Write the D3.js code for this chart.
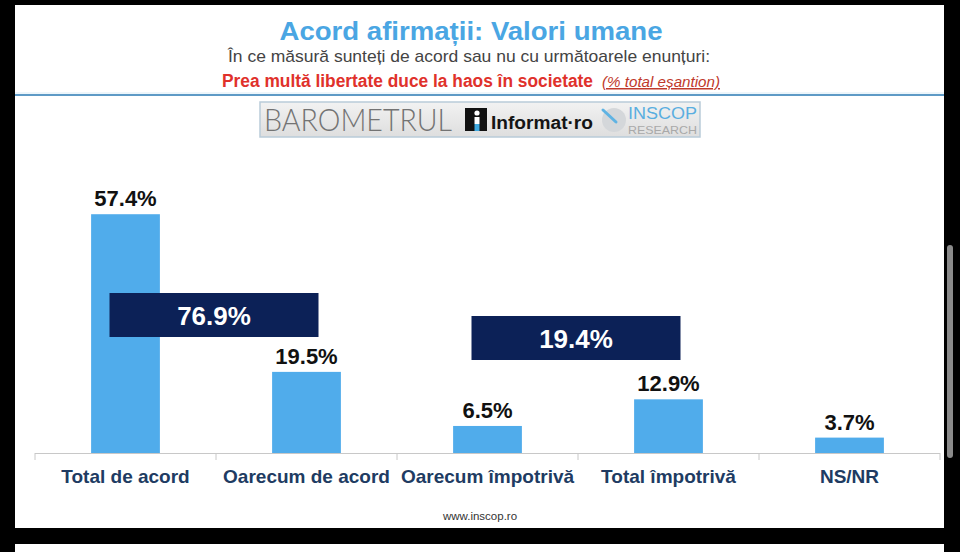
<!DOCTYPE html>
<html>
<head>
<meta charset="utf-8">
<script src="https://cdn.jsdelivr.net/npm/d3@7"></script>
<style>
  html, body { margin: 0; padding: 0; background: #000; }
  svg { display: block; }
  text { font-family: "Liberation Sans", Arial, sans-serif; }
</style>
</head>
<body>
<svg id="chart" width="960" height="552"></svg>
<script>
// Chart data
const categories = ['Total de acord', 'Oarecum de acord', 'Oarecum împotrivă', 'Total împotrivă', 'NS/NR'];
const values = [57.4, 19.5, 6.5, 12.9, 3.7];
const valueLabels = ['57.4%', '19.5%', '6.5%', '12.9%', '3.7%'];

// Summary boxes (sum of two neighbouring categories)
const summaryPairs = [['Total de acord', 'Oarecum de acord'], ['Oarecum împotrivă', 'Total împotrivă']];
const summaryLabels = ['76.9%', '19.4%'];

const titleText = 'Acord afirmații: Valori umane';
const subtitleText = 'În ce măsură sunteți de acord sau nu cu următoarele enunțuri:';
const questionText = 'Prea multă libertate duce la haos în societate';
const noteText = '(% total eșantion)';
const footerText = 'www.inscop.ro';

const svg = d3.select('#chart');

// Page panels (screenshot frame)
svg.append('rect').attr('x', 15).attr('y', 5).attr('width', 929).attr('height', 523).attr('fill', '#fff');
svg.append('rect').attr('x', 15).attr('y', 544).attr('width', 929).attr('height', 8).attr('fill', '#fff');
svg.append('rect').attr('x', 947).attr('y', 245).attr('width', 6).attr('height', 213).attr('rx', 3).attr('fill', '#8a8a8a');

// Header
svg.append('text').attr('x', 471).attr('y', 40).attr('text-anchor', 'middle')
    .attr('font-size', 26).attr('font-weight', 'bold').attr('fill', '#4aa6e3')
    .attr('textLength', 383).attr('lengthAdjust', 'spacingAndGlyphs')
    .text(titleText);
svg.append('text').attr('x', 469).attr('y', 62).attr('text-anchor', 'middle')
    .attr('font-size', 17).attr('fill', '#444')
    .attr('textLength', 482).attr('lengthAdjust', 'spacingAndGlyphs')
    .text(subtitleText);
svg.append('text').attr('x', 222).attr('y', 87)
    .attr('font-size', 18).attr('font-weight', 'bold').attr('fill', '#e0312b')
    .attr('textLength', 371).attr('lengthAdjust', 'spacingAndGlyphs')
    .text(questionText);
svg.append('text').attr('x', 602).attr('y', 87)
    .attr('font-size', 15).attr('font-style', 'italic').attr('fill', '#c0392b')
    .attr('text-decoration', 'underline')
    .attr('textLength', 118).attr('lengthAdjust', 'spacingAndGlyphs')
    .text(noteText);
svg.append('line').attr('x1', 15).attr('x2', 944).attr('y1', 95).attr('y2', 95)
    .attr('stroke', '#5e9ac6').attr('stroke-width', 2);
svg.append('line').attr('x1', 15).attr('x2', 944).attr('y1', 93).attr('y2', 93)
    .attr('stroke', '#dcedf7').attr('stroke-width', 1);

// Logo strip
const defs = svg.append('defs');
const grad = defs.append('linearGradient').attr('id', 'logoGrad').attr('x1', 0).attr('x2', 0).attr('y1', 0).attr('y2', 1);
grad.append('stop').attr('offset', '0%').attr('stop-color', '#f2f2f2');
grad.append('stop').attr('offset', '100%').attr('stop-color', '#dedede');

const logo = svg.append('g');
logo.append('rect').attr('x', 260).attr('y', 102).attr('width', 440).attr('height', 35)
    .attr('fill', 'url(#logoGrad)').attr('stroke', '#b9cbd9').attr('stroke-width', 1.5);
logo.append('text').attr('x', 264).attr('y', 131).attr('font-size', 31).attr('font-weight', 300)
    .style('font-family', 'Lato, "Open Sans", sans-serif')
    .attr('fill', '#737373').attr('textLength', 188).attr('lengthAdjust', 'spacingAndGlyphs')
    .text('BAROMETRUL');
logo.append('rect').attr('x', 465).attr('y', 108).attr('width', 22).attr('height', 23).attr('fill', '#111');
logo.append('circle').attr('cx', 477).attr('cy', 113).attr('r', 2.6).attr('fill', '#fff');
logo.append('rect').attr('x', 474.5).attr('y', 117).attr('width', 5).attr('height', 7).attr('fill', '#fff');
logo.append('rect').attr('x', 474.5).attr('y', 124).attr('width', 5).attr('height', 7).attr('fill', '#3fa9e0');
logo.append('text').attr('x', 491).attr('y', 129).attr('font-size', 18).attr('font-weight', 'bold')
    .attr('fill', '#141414').attr('textLength', 102).attr('lengthAdjust', 'spacingAndGlyphs')
    .text('Informat·ro');
logo.append('circle').attr('cx', 614).attr('cy', 120).attr('r', 12).attr('fill', '#d4d7da');
logo.append('line').attr('x1', 603).attr('y1', 110).attr('x2', 616).attr('y2', 122)
    .attr('stroke', '#5fb3e3').attr('stroke-width', 3).attr('stroke-linecap', 'round');
logo.append('text').attr('x', 628).attr('y', 119).attr('font-size', 16)
    .attr('fill', '#5aaee0').attr('textLength', 69).attr('lengthAdjust', 'spacingAndGlyphs')
    .text('INSCOP');
logo.append('text').attr('x', 628).attr('y', 134).attr('font-size', 11)
    .attr('fill', '#a9a9a9').attr('textLength', 69).attr('lengthAdjust', 'spacingAndGlyphs')
    .text('RESEARCH');

// Scales
const x = d3.scaleBand()
    .domain(categories)
    .range([35, 940])
    .paddingInner(0.62)
    .paddingOuter(0.31);

const y = d3.scaleLinear()
    .domain([0, 60])
    .range([453, 203.4]);

const step = x.step();
const bw = x.bandwidth();
const centre = d => x(d) + bw / 2;

// Axis line with ticks at band boundaries
const baseY = y(0);
svg.append('line').attr('x1', 35).attr('x2', 940).attr('y1', baseY + 0.5).attr('y2', baseY + 0.5)
    .attr('stroke', '#c8c8c8').attr('stroke-width', 1);
const boundaries = categories.map(d => centre(d) - step / 2).concat([centre(categories[categories.length - 1]) + step / 2]);
svg.append('g').selectAll('line')
    .data(boundaries)
    .join('line')
    .attr('x1', d => d).attr('x2', d => d)
    .attr('y1', baseY).attr('y2', baseY + 7)
    .attr('stroke', '#c8c8c8');

// Bars
svg.append('g').selectAll('rect')
    .data(categories)
    .join('rect')
    .attr('x', d => x(d))
    .attr('y', (d, i) => y(values[i]))
    .attr('width', bw)
    .attr('height', (d, i) => y(0) - y(values[i]))
    .attr('fill', '#50aceb');

// Value labels
svg.append('g').selectAll('text')
    .data(categories)
    .join('text')
    .attr('x', d => centre(d))
    .attr('y', (d, i) => y(values[i]) - 8)
    .attr('text-anchor', 'middle')
    .attr('font-size', 22)
    .attr('font-weight', 'bold')
    .attr('fill', '#111')
    .text((d, i) => valueLabels[i]);

// Category labels
svg.append('g').selectAll('text')
    .data(categories)
    .join('text')
    .attr('x', d => centre(d))
    .attr('y', 483)
    .attr('text-anchor', 'middle')
    .attr('font-size', 19)
    .attr('font-weight', 'bold')
    .attr('fill', '#203b62')
    .text(d => d);

// Summary boxes, centred on the boundary between the paired categories
const boxLayout = { width: 209, height: 44, tops: [293, 316] };
const boxes = svg.append('g').selectAll('g')
    .data(summaryPairs)
    .join('g')
    .attr('transform', (d, i) => {
        const cx = (centre(d[0]) + centre(d[1])) / 2 - 2;
        return `translate(${cx - boxLayout.width / 2},${boxLayout.tops[i]})`;
    });
boxes.append('rect')
    .attr('width', boxLayout.width)
    .attr('height', boxLayout.height)
    .attr('fill', '#0c2157');
boxes.append('text')
    .attr('x', boxLayout.width / 2)
    .attr('y', boxLayout.height / 2 + 9.5)
    .attr('text-anchor', 'middle')
    .attr('font-size', 26)
    .attr('font-weight', 'bold')
    .attr('fill', '#fff')
    .text((d, i) => summaryLabels[i]);

// Footer
svg.append('text').attr('x', 480).attr('y', 520).attr('text-anchor', 'middle')
    .attr('font-size', 11.5).attr('fill', '#333')
    .text(footerText);
</script>
</body>
</html>
